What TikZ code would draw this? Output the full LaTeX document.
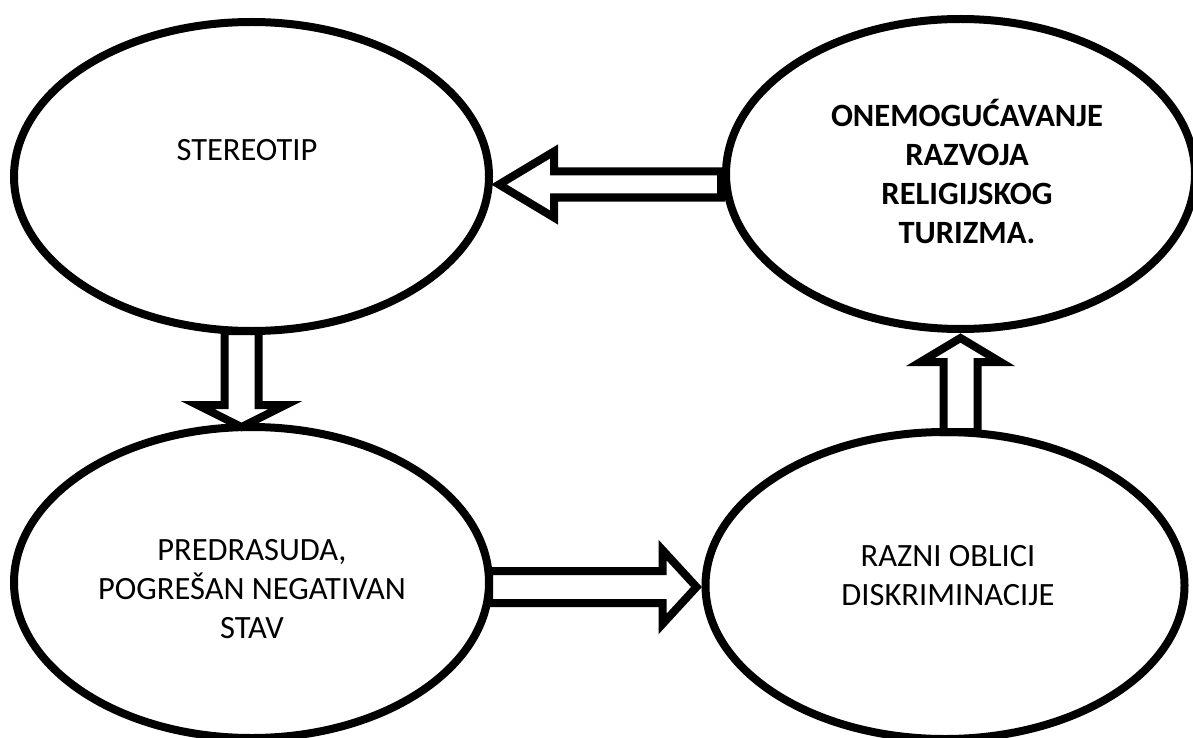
\documentclass[tikz,border=0pt]{standalone}
\usepackage{fontspec}
\setmainfont{Carlito}
\usetikzlibrary{shapes.geometric,calc}

\begin{document}
\begin{tikzpicture}[x=1pt,y=-1pt]
\tikzstyle{bubble}=[ellipse, draw=black, line width=8pt, outer sep=0pt, inner sep=0pt]
\tikzstyle{bubbletext}=[align=center, font=\fontsize{32.5}{39}\selectfont]
\tikzstyle{bubblebold}=[align=center, font=\fontsize{32.5}{39}\selectfont\bfseries]
\tikzstyle{blockarrow}=[draw=black, line width=8pt, miter limit=20]

% Background
\clip (0,0) rectangle (1193,738);
\fill[white] (0,0) rectangle (1193,738);

% Ellipses
\node[bubble, minimum width=475pt, minimum height=309pt] (stereo) at (251.5,176.5) {};
\node[bubble, minimum width=469pt, minimum height=310pt] (onemog) at (960.5,174) {};
\node[bubble, minimum width=475pt, minimum height=311pt] (predr) at (251.5,582.5) {};
\node[bubble, minimum width=479pt, minimum height=307pt] (razni) at (945,585.5) {};

\node[bubbletext] (stereo-txt) at ($(stereo.center)+(-4.5,-26.5)$) {STEREOTIP};
\node[bubblebold] (onemog-txt) at ($(onemog.center)+(6.5,-3)$) {ONEMOGUĆAVANJE\\RAZVOJA\\RELIGIJSKOG\\TURIZMA.};
\node[bubbletext] (predr-txt) at ($(predr.center)+(0.5,7)$) {PREDRASUDA,\\POGREŠAN NEGATIVAN\\STAV};
\node[bubbletext] (razni-txt) at ($(razni.center)+(3,-10)$) {RAZNI OBLICI\\DISKRIMINACIJE};

% Block arrows
\coordinate (tip1) at ($(stereo.east)+(10,8)$);
\coordinate (tail1) at ($(onemog.west)+(-5,0)$);
\path[blockarrow] (tip1) -- ++(55,-33) -- ++(0,20) coordinate (a1) -- (tail1 |- a1) -- ++(0,26) coordinate (b1) -- (b1 -| a1) -- ++(0,20) -- cycle;

\coordinate (tip2) at ($(predr.north)+(-10,0)$);
\path[blockarrow] (tip2) -- ++(-44,-22) -- ++(27,0) coordinate (a2) -- (a2 |- stereo.south) -- ++(34,0) coordinate (b2) -- (b2 |- a2) -- ++(27,0) -- cycle;

\coordinate (tip3) at ($(razni.west)+(-9,1.5)$);
\path[blockarrow] (tip3) -- ++(-34,-37) -- ++(0,21) coordinate (a3) -- (predr.east |- a3) -- ++(0,32) coordinate (b3) -- (b3 -| a3) -- ++(0,21) -- cycle;

\coordinate (tip4) at ($(onemog.south)+(0,9)$);
\path[blockarrow] (tip4) -- ++(-40,24) -- ++(23,0) coordinate (a4) -- (a4 |- razni.north) -- ++(34,0) coordinate (b4) -- (b4 |- a4) -- ++(23,0) -- cycle;
\end{tikzpicture}
\end{document}
